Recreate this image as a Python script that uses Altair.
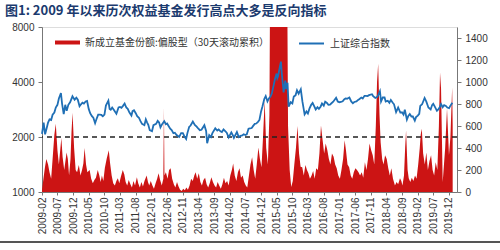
import altair as alt
import pandas as pd

# ---------------- data ----------------
fund_dates = [
 "2009-02-01","2009-02-15","2009-03-01","2009-03-15","2009-04-01","2009-04-15","2009-05-01","2009-05-15",
 "2009-06-01","2009-06-15","2009-07-01","2009-07-15","2009-08-08","2009-08-20","2009-09-05","2009-09-28",
 "2009-10-10","2009-10-22","2009-11-05","2009-11-15","2009-11-25","2009-12-10","2009-12-25",
 "2010-01-08","2010-01-25","2010-02-10","2010-02-25","2010-03-10","2010-03-22","2010-04-05","2010-04-18",
 "2010-05-10","2010-05-25","2010-06-10","2010-06-25","2010-07-10","2010-07-28","2010-08-12","2010-08-25",
 "2010-09-06","2010-09-20","2010-10-05","2010-10-22","2010-11-12","2010-11-25","2010-12-10","2010-12-25",
 "2011-01-10","2011-01-25","2011-02-08","2011-02-22","2011-03-10","2011-03-28","2011-04-12","2011-04-25",
 "2011-05-10","2011-05-25","2011-06-10","2011-06-25","2011-07-10","2011-07-25","2011-08-12","2011-08-25",
 "2011-09-10","2011-09-25","2011-10-10","2011-10-25","2011-11-15","2011-11-28","2011-12-10","2011-12-25",
 "2012-01-10","2012-01-25","2012-02-10","2012-02-25","2012-03-10","2012-03-25","2012-04-10","2012-04-25",
 "2012-05-01","2012-05-06","2012-05-20","2012-06-05","2012-06-20","2012-07-05","2012-07-20","2012-08-05",
 "2012-08-20","2012-09-05","2012-09-20","2012-10-05","2012-10-20","2012-11-05","2012-11-20","2012-12-05",
 "2012-12-20","2013-01-05","2013-01-20","2013-02-05","2013-02-20","2013-03-05","2013-03-20","2013-04-05",
 "2013-04-20","2013-05-05","2013-05-20","2013-06-05","2013-06-20","2013-07-05","2013-07-20","2013-08-05",
 "2013-08-20","2013-09-05","2013-09-20","2013-10-05","2013-10-20","2013-11-05","2013-11-20","2013-12-05",
 "2013-12-20","2014-01-05","2014-01-20","2014-02-05","2014-02-20","2014-03-05","2014-03-20","2014-04-05",
 "2014-04-20","2014-05-05","2014-05-20","2014-06-05","2014-06-20","2014-07-05","2014-07-20","2014-08-05",
 "2014-08-20","2014-09-05","2014-09-20","2014-10-05","2014-10-20","2014-11-05","2014-11-20","2014-12-05",
 "2014-12-20","2015-01-05","2015-01-20","2015-02-05","2015-02-20","2015-03-05","2015-03-20","2015-04-05",
 "2015-04-20","2015-05-05","2015-05-12","2015-05-20","2015-06-05","2015-06-20","2015-07-05","2015-07-20",
 "2015-08-05","2015-08-20","2015-09-05","2015-09-20","2015-10-05","2015-10-20","2015-11-05","2015-11-20",
 "2015-12-05","2015-12-20","2016-01-05","2016-01-20","2016-02-05","2016-02-20","2016-03-05","2016-03-20",
 "2016-04-05","2016-04-20","2016-05-05","2016-05-20","2016-06-05","2016-06-20","2016-07-05","2016-07-20",
 "2016-08-05","2016-08-20","2016-09-05","2016-09-20","2016-10-05","2016-10-20","2016-11-05","2016-11-20",
 "2016-12-05","2016-12-20","2017-01-05","2017-01-20","2017-02-05","2017-02-20","2017-03-05","2017-03-20",
 "2017-04-05","2017-04-20","2017-05-05","2017-05-20","2017-06-05","2017-06-20","2017-07-05","2017-07-20",
 "2017-08-05","2017-08-20","2017-09-05","2017-09-20","2017-10-05","2017-10-20","2017-11-05","2017-11-20",
 "2017-12-05","2017-12-20","2018-01-01","2018-01-12","2018-01-25","2018-02-05","2018-02-20","2018-03-05",
 "2018-03-20","2018-04-05","2018-04-20","2018-05-05","2018-05-20","2018-06-05","2018-06-24","2018-07-10",
 "2018-07-25","2018-08-12","2018-08-25","2018-09-05","2018-09-20","2018-10-01","2018-10-10","2018-10-25",
 "2018-11-05","2018-11-20","2018-12-05","2018-12-20","2019-01-05","2019-01-20","2019-02-05","2019-02-20",
 "2019-03-01","2019-03-12","2019-03-25","2019-04-10","2019-04-25","2019-05-10","2019-05-25","2019-06-10",
 "2019-06-25","2019-07-10","2019-07-25","2019-08-10","2019-08-25","2019-09-05","2019-09-15","2019-10-01",
 "2019-10-25","2019-11-12","2019-12-01","2019-12-15","2020-01-01","2020-01-06",
]
fund_values = [
 20,120,220,300,250,180,120,300,
 520,620,380,250,490,320,200,360,
 300,150,300,550,720,400,200,
 180,245,150,200,260,400,250,180,
 200,120,80,110,130,200,150,90,
 150,100,220,300,380,260,150,80,
 60,100,126,80,140,200,160,90,
 60,110,70,40,100,60,135,80,
 40,90,50,100,150,90,60,100,
 60,30,80,120,170,110,60,120,
 770,150,180,120,200,215,120,70,
 40,90,50,20,10,30,15,40,
 20,60,120,100,150,180,120,170,
 90,60,110,130,70,40,80,135,
 90,60,40,90,60,30,70,130,
 80,100,60,150,200,260,150,100,
 180,215,130,150,90,60,40,150,
 250,315,200,120,250,405,300,225,
 500,830,400,250,700,3000,3200,3400,
 3500,3400,2800,3300,3500,3600,3300,3200,
 3000,600,200,45,100,250,400,600,
 350,230,225,150,245,200,170,120,
 150,190,120,215,200,350,605,480,
 350,440,380,300,250,350,320,250,
 215,150,120,200,300,470,380,250,
 225,150,120,180,215,200,180,150,
 180,130,270,200,300,440,380,335,
 250,600,1000,1165,700,450,300,250,
 335,300,215,150,215,120,60,90,
 70,125,100,60,150,400,560,200,
 125,90,130,100,150,120,250,400,
 520,575,350,250,360,200,280,335,
 200,150,270,200,600,1085,940,90,
 400,760,335,500,950,600,
]

idx_dates = [
 "2009-02-01","2009-02-17","2009-03-03","2009-03-15","2009-04-01","2009-04-15","2009-05-01","2009-05-15",
 "2009-06-01","2009-06-15","2009-07-01","2009-07-15","2009-08-04","2009-08-15","2009-08-31","2009-09-15",
 "2009-09-29","2009-10-15","2009-11-01","2009-11-24","2009-12-15","2010-01-01","2010-01-15","2010-02-01",
 "2010-02-15","2010-03-01","2010-03-15","2010-04-01","2010-04-15","2010-05-01","2010-05-15","2010-06-01",
 "2010-06-15","2010-07-02","2010-07-15","2010-08-01","2010-08-15","2010-09-01","2010-09-15","2010-10-01",
 "2010-10-15","2010-11-08","2010-11-20","2010-12-01","2010-12-15","2011-01-01","2011-01-25","2011-02-15",
 "2011-03-01","2011-03-15","2011-04-01","2011-04-15","2011-05-01","2011-05-15","2011-06-01","2011-06-20",
 "2011-07-01","2011-07-15","2011-08-01","2011-08-15","2011-09-01","2011-09-15","2011-10-01","2011-10-24",
 "2011-11-07","2011-11-20","2011-12-01","2011-12-15","2012-01-06","2012-01-20","2012-02-15","2012-03-01",
 "2012-03-15","2012-03-28","2012-04-15","2012-05-04","2012-05-20","2012-06-01","2012-06-15","2012-07-01",
 "2012-07-15","2012-08-01","2012-08-15","2012-09-01","2012-09-26","2012-10-15","2012-11-01","2012-11-15",
 "2012-12-03","2012-12-15","2013-01-01","2013-01-15","2013-02-06","2013-02-25","2013-03-15","2013-04-01",
 "2013-04-15","2013-05-01","2013-05-29","2013-06-15","2013-06-25","2013-07-15","2013-08-01","2013-08-15",
 "2013-09-12","2013-10-01","2013-10-15","2013-11-01","2013-11-15","2013-12-01","2013-12-15","2014-01-01",
 "2014-01-20","2014-02-15","2014-03-01","2014-03-12","2014-04-10","2014-04-28","2014-05-15","2014-06-01",
 "2014-06-15","2014-07-01","2014-07-15","2014-08-01","2014-08-15","2014-09-01","2014-09-15","2014-10-01",
 "2014-10-15","2014-11-01","2014-11-15","2014-12-01","2014-12-15","2015-01-01","2015-01-15","2015-02-01",
 "2015-02-15","2015-03-01","2015-03-15","2015-04-01","2015-04-15","2015-05-01","2015-05-08","2015-05-15",
 "2015-06-01","2015-06-12","2015-06-20","2015-07-08","2015-07-24","2015-08-01","2015-08-15","2015-08-26",
 "2015-09-15","2015-10-01","2015-10-15","2015-11-01","2015-11-15","2015-12-01","2015-12-22","2016-01-07",
 "2016-01-28","2016-02-15","2016-02-29","2016-03-15","2016-04-01","2016-04-15","2016-05-01","2016-05-15",
 "2016-06-01","2016-06-15","2016-07-01","2016-07-15","2016-08-01","2016-08-15","2016-09-01","2016-09-15",
 "2016-10-01","2016-10-15","2016-11-01","2016-11-29","2016-12-15","2016-12-31","2017-01-15","2017-02-01",
 "2017-02-15","2017-03-01","2017-03-15","2017-04-07","2017-04-25","2017-05-11","2017-05-25","2017-06-15",
 "2017-07-01","2017-07-15","2017-08-01","2017-08-15","2017-09-01","2017-09-15","2017-10-01","2017-10-15",
 "2017-11-13","2017-11-24","2017-12-15","2018-01-01","2018-01-15","2018-01-29","2018-02-09","2018-02-26",
 "2018-03-15","2018-03-26","2018-04-15","2018-05-01","2018-05-15","2018-06-01","2018-06-15","2018-07-05",
 "2018-07-25","2018-08-15","2018-08-31","2018-09-15","2018-09-28","2018-10-18","2018-11-01","2018-11-15",
 "2018-12-01","2018-12-15","2019-01-03","2019-01-15","2019-02-01","2019-02-15","2019-02-25","2019-03-15",
 "2019-04-08","2019-04-25","2019-05-15","2019-06-06","2019-06-20","2019-07-01","2019-07-15","2019-08-06",
 "2019-08-15","2019-09-01","2019-09-15","2019-10-01","2019-10-15","2019-11-01","2019-11-15","2019-12-02",
 "2019-12-15","2020-01-03",
]
idx_values = [
 2080,2400,2070,2200,2400,2500,2480,2650,
 2720,2900,3000,3250,3478,3050,2670,3000,
 2780,3000,3100,3340,3200,3280,3200,2950,
 3020,3080,3050,3130,3150,2850,2700,2600,
 2550,2380,2500,2650,2650,2640,2600,2650,
 2970,3160,2850,2820,2900,2810,2680,2900,
 2920,2890,2970,3050,2900,2850,2720,2620,
 2770,2800,2700,2600,2550,2450,2360,2320,
 2500,2400,2330,2180,2150,2320,2360,2450,
 2400,2260,2360,2440,2350,2370,2300,2220,
 2180,2100,2110,2050,2000,2100,2100,2020,
 1950,2100,2270,2310,2430,2330,2280,2220,
 2180,2190,2320,2160,1850,2050,2000,2100,
 2230,2170,2200,2150,2130,2200,2160,2110,
 1990,2120,2050,1980,2130,2000,2030,2040,
 2070,2050,2070,2220,2230,2240,2300,2360,
 2370,2420,2480,2760,2950,3230,3350,3130,
 3250,3320,3450,3810,4150,4450,4200,4300,
 4830,5170,4480,3510,4070,3660,3960,2930,
 3100,3050,3330,3380,3600,3450,3650,3120,
 2660,2760,2690,2860,3000,3070,2940,2830,
 2910,2850,2930,3050,2970,3120,3070,3000,
 3010,3060,3120,3280,3130,3100,3110,3140,
 3210,3250,3240,3290,3130,3060,3110,3130,
 3190,3230,3290,3250,3360,3360,3350,3390,
 3430,3350,3270,3310,3410,3560,3130,3290,
 3290,3130,3160,3080,3190,3090,3020,2740,
 2900,2720,2730,2650,2820,2490,2610,2670,
 2590,2590,2460,2570,2620,2680,2960,3020,
 3270,3120,2900,2830,2990,3040,2940,2780,
 2810,2900,3030,2910,2990,2960,2900,2880,
 2970,3080,
]

ref_level = [2000]
left_ticks = [1000, 2000, 4000, 8000]
right_ticks = [0, 200, 400, 600, 800, 1000, 1200, 1400]
tick_months = [(2009, 2), (2009, 7), (2009, 12), (2010, 5), (2010, 10), (2011, 3), (2011, 8),
               (2012, 1), (2012, 6), (2012, 11), (2013, 4), (2013, 9), (2014, 2), (2014, 7),
               (2014, 12), (2015, 5), (2015, 10), (2016, 3), (2016, 8), (2017, 1), (2017, 6),
               (2017, 11), (2018, 4), (2018, 9), (2019, 2), (2019, 7), (2019, 12)]

fund_name = "新成立基金份额:偏股型（30天滚动累积）"
idx_name = "上证综合指数"
title_text = "图1:   2009 年以来历次权益基金发行高点大多是反向指标"

fund_df = pd.DataFrame({"date": fund_dates, "fund": fund_values, "s": fund_name})
idx_df = pd.DataFrame({"date": idx_dates, "idx": idx_values, "s2": idx_name})
ref_df = pd.DataFrame({"v": ref_level})

RED = "#cc1414"
BLUE = "#1f6fb5"
FONT = "Liberation Sans"
CJK = "Noto Sans CJK SC"

xdomain = [alt.DateTime(year=2009, month=2, date=1, utc=True),
           alt.DateTime(year=2020, month=2, date=17, utc=True)]
xvals = [alt.DateTime(year=y, month=m, date=1, utc=True) for y, m in tick_months]

xenc = alt.X("date:T", scale=alt.Scale(type="utc", domain=xdomain),
             axis=alt.Axis(values=xvals, labelExpr="utcFormat(datum.value, '%Y-%m')",
                           labelAngle=270, labelFontSize=10, labelFont=FONT, labelColor="#333",
                           tickSize=3, tickColor="#777", domainColor="#777", grid=False,
                           title=None, labelPadding=2, labelOverlap=False))

left_axis = alt.Axis(orient="left", values=left_ticks, format="d", title=None, grid=False,
                     labelFontSize=10, labelFont=FONT, labelColor="#333", tickSize=4,
                     tickColor="#777", domainColor="#777", labelPadding=4)
log_scale = alt.Scale(type="log", domain=[1000, 8000], nice=False)

area = alt.Chart(fund_df).mark_area(clip=True, interpolate="linear").encode(
    x=xenc,
    y=alt.Y("fund:Q", scale=alt.Scale(domain=[0, 1500], nice=False),
            axis=alt.Axis(orient="right", values=right_ticks, format="d", title=None, grid=False,
                          labelFontSize=10, labelFont=FONT, labelColor="#333", tickSize=4,
                          tickColor="#777", domainColor="#777", labelPadding=4)),
    color=alt.Color("s:N", scale=alt.Scale(range=[RED]),
                    legend=alt.Legend(orient="none", legendX=13, legendY=3, title=None,
                                      symbolType="M-1,-0.16H1V0.16H-1Z", symbolSize=625,
                                      symbolStrokeWidth=0, labelFont=CJK, labelFontSize=10,
                                      labelColor="#333", padding=0, labelOffset=5,
                                      labelLimit=400)),
)

rule = alt.Chart(ref_df).mark_rule(color="#222", strokeDash=[5, 4], strokeWidth=1.5).encode(
    y=alt.Y("v:Q", scale=log_scale, axis=left_axis)
)

line = alt.Chart(idx_df).mark_line(strokeWidth=1.8).encode(
    x=xenc,
    y=alt.Y("idx:Q", scale=log_scale, axis=left_axis),
    stroke=alt.Stroke("s2:N", scale=alt.Scale(range=[BLUE]),
                      legend=alt.Legend(orient="none", legendX=256, legendY=3, title=None,
                                        symbolType="stroke", symbolSize=625, symbolStrokeWidth=2,
                                        labelFont=CJK, labelFontSize=10, labelColor="#333",
                                        padding=0, labelOffset=5, labelLimit=200)),
)

bottom_bar = alt.Chart(ref_df).mark_rule(color="#555", strokeWidth=2).encode(
    x=alt.value(-42), x2=alt.value(458), y=alt.value(215)
)

chart = alt.layer(area, alt.layer(rule, line), bottom_bar).resolve_scale(
    y="independent", color="independent"
).properties(
    width=415, height=165,
    autosize=alt.AutoSizeParams(type="none"),
    padding={"left": 42, "right": 43, "top": 27, "bottom": 58},
    title=alt.TitleParams(title_text, anchor="start", frame="group", dx=-37, offset=4,
                          fontSize=13, font=CJK, fontWeight="bold", color="#1b3a6e"),
).configure_view(stroke=None).configure(background="white")

chart.save("out.html", embed_options={"renderer": "svg", "actions": False})
